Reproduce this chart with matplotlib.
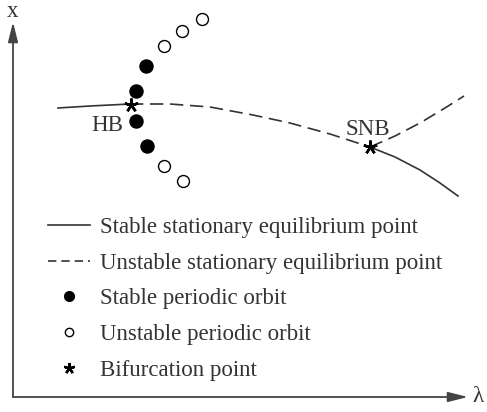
import matplotlib
matplotlib.use("Agg")
import matplotlib.pyplot as plt
from matplotlib.lines import Line2D

plt.rcParams['font.family'] = ['Liberation Serif', 'DejaVu Serif']

# equilibrium branches (lambda, x), schematic
stable_left_lam = [4.5, 7.7, 11.7]
stable_left_x = [29.0, 29.2, 29.4]
unstable_mid_lam = [11.7, 15.7, 19.7, 24.0, 27.7, 31.7, 35.7]
unstable_mid_x = [29.4, 29.4, 29.1, 28.3, 27.5, 26.4, 25.1]
stable_right_lam = [35.7, 38.2, 40.7, 42.7, 44.5]
stable_right_x = [25.1, 24.1, 22.8, 21.5, 20.2]
unstable_up_lam = [35.7, 38.2, 40.7, 43.2, 45.1]
unstable_up_x = [25.1, 26.2, 27.5, 29.0, 30.2]

# periodic orbits
stable_po_lam = [13.3, 12.3, 12.3, 13.4]
stable_po_x = [33.2, 30.7, 27.7, 25.2]
unstable_po_lam = [15.1, 16.9, 18.9, 15.1, 17.0]
unstable_po_x = [35.2, 36.7, 37.9, 23.2, 21.7]

# bifurcation points
bif_lam = [11.8, 35.7]
bif_x = [29.3, 25.1]
bif_names = ["HB", "SNB"]

legend_labels = ["Stable stationary equilibrium point",
                 "Unstable stationary equilibrium point",
                 "Stable periodic orbit",
                 "Unstable periodic orbit",
                 "Bifurcation point"]

col = '#333333'
fs = 16.5
asterisk = (5, 2, 0)

fig = plt.figure(figsize=(4.87, 4.12), dpi=100)
ax = fig.add_axes([0, 0, 1, 1])
ax.set_xlim(-1.3, 47.4)
ax.set_ylim(-1.4, 39.8)
ax.axis('off')

# axes with arrows
arrow = dict(arrowstyle='-|>,head_length=1.2,head_width=0.3', lw=1.3,
             color='#444444', shrinkA=0, shrinkB=0, mutation_scale=10)
ax.annotate('', xy=(0, 37.6), xytext=(0, 0.1), arrowprops=arrow)
ax.annotate('', xy=(45.5, 0.1), xytext=(0, 0.1), arrowprops=arrow)
ax.text(0, 38.6, 'x', fontsize=fs, color=col, ha='center', va='center')
ax.text(46.5, 0.1, 'λ', fontsize=fs, color=col, ha='center', va='center')

ax.plot(stable_left_lam, stable_left_x, color=col, lw=1.2)
ax.plot(unstable_mid_lam, unstable_mid_x, color=col, lw=1.2, ls=(0, (8, 4)))
ax.plot(stable_right_lam, stable_right_x, color=col, lw=1.2)
ax.plot(unstable_up_lam, unstable_up_x, color=col, lw=1.2, ls=(0, (8, 4)))

ax.plot(stable_po_lam, stable_po_x, 'o', color='black', ms=9.4, ls='none')
ax.plot(unstable_po_lam, unstable_po_x, 'o', mfc='white', mec='black',
        mew=1.0, ms=8.6, ls='none')
ax.plot(bif_lam, bif_x, marker=asterisk, color='black', ms=10, mew=1.8, ls='none')

ax.text(9.4, 27.2, bif_names[0], fontsize=fs, color=col, ha='center', va='center')
ax.text(35.5, 26.8, bif_names[1], fontsize=fs, color=col, ha='center', va='center')

handles = [Line2D([], [], color=col, lw=1.2),
           Line2D([], [], color=col, lw=1.2, ls=(0, (5, 3))),
           Line2D([], [], marker='o', color='black', ms=7, ls='none'),
           Line2D([], [], marker='o', mfc='white', mec='black', mew=1.0, ms=6, ls='none'),
           Line2D([], [], marker=asterisk, color='black', ms=8, mew=1.7, ls='none')]
leg = ax.legend(handles, legend_labels, loc='upper left',
                bbox_to_anchor=(48 / 487, 1 - 217 / 412), frameon=False,
                fontsize=fs, handlelength=1.83, handletextpad=0.44,
                labelspacing=0.64, borderpad=0, borderaxespad=0)
for t in leg.get_texts():
    t.set_color(col)

fig.savefig('out.png', dpi=100)
